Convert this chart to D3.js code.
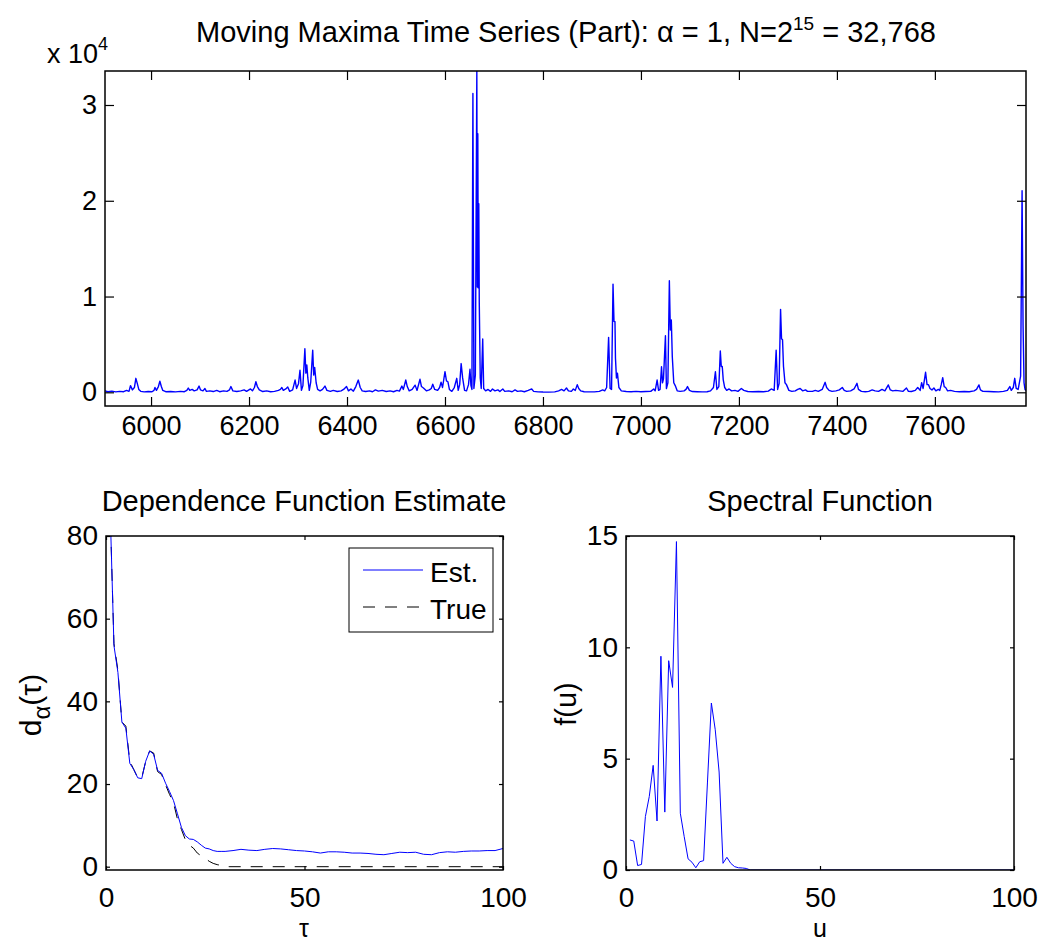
<!DOCTYPE html>
<html>
<head>
<meta charset="utf-8">
<script src="https://cdnjs.cloudflare.com/ajax/libs/d3/7.8.5/d3.min.js"></script>
<style>
  body { margin: 0; background: #fff; }
  svg { display: block; }
  text { font-family: "Liberation Sans", Arial, Helvetica, sans-serif; fill: #000; }
</style>
</head>
<body>
<script>
// moving maxima series (part), t and value
var tsT = [5906,5912,5920,5928,5936,5944,5950,5955,5958,5962,5966,5969,5972,5975,5979,5986,5994,6002,6006,6008,
  6011,6015,6018,6021,6024,6030,6040,6050,6060,6068,6073,6076,6079,6084,6088,6094,6098,6101,6106,6110,
  6113,6120,6127,6134,6140,6148,6155,6160,6163,6167,6175,6183,6190,6195,6203,6207,6211,6214,6217,6221,
  6228,6236,6244,6252,6260,6264,6267,6270,6275,6279,6283,6289,6294,6297,6301,6304,6307,6310,6314,6316,
  6318,6320,6323,6326,6330,6332,6334,6337,6340,6345,6350,6355,6359,6366,6372,6380,6388,6393,6399,6403,
  6408,6413,6418,6423,6427,6431,6438,6446,6452,6458,6464,6472,6480,6488,6495,6502,6507,6512,6515,6520,
  6523,6527,6533,6539,6543,6549,6552,6556,6562,6568,6572,6575,6579,6585,6589,6592,6595,6600,6603,6606,
  6609,6614,6619,6624,6627,6630,6633,6636,6640,6644,6648,6651,6653,6655,6657,6659,6662,6665,6666,6667,
  6668,6669,6670,6672,6674,6677,6679,6683,6688,6693,6697,6702,6708,6712,6718,6722,6730,6737,6743,6748,
  6755,6762,6770,6777,6781,6790,6800,6812,6824,6832,6838,6843,6848,6852,6858,6862,6866,6870,6873,6877,
  6884,6895,6905,6915,6922,6926,6930,6934,6937,6940,6943,6945,6947,6948,6950,6952,6955,6960,6970,6980,
  6990,7000,7010,7020,7026,7029,7033,7036,7039,7042,7044,7046,7050,7052,7055,7058,7060,7062,7064,7067,
  7070,7074,7080,7088,7092,7095,7099,7105,7115,7125,7135,7142,7148,7152,7155,7159,7162,7164,7166,7168,
  7171,7175,7180,7185,7192,7198,7205,7210,7218,7228,7240,7250,7260,7266,7272,7276,7279,7282,7285,7287,
  7289,7291,7294,7297,7302,7308,7315,7320,7325,7330,7336,7340,7350,7356,7362,7370,7376,7379,7384,7390,
  7398,7405,7411,7415,7420,7428,7435,7441,7444,7450,7458,7465,7472,7478,7485,7492,7498,7505,7509,7514,
  7520,7528,7535,7542,7546,7552,7560,7565,7570,7573,7576,7581,7584,7587,7590,7594,7598,7602,7607,7610,
  7613,7616,7619,7622,7626,7632,7640,7650,7660,7670,7680,7685,7690,7693,7698,7710,7720,7730,7740,7748,
  7753,7756,7760,7763,7766,7770,7775,7778,7780,7782,7784,7786];
var tsV = [150,60,120,50,100,60,200,100,700,250,500,1460,900,300,100,50,80,60,200,500,
  200,600,1150,600,200,60,80,50,100,60,200,450,200,300,150,250,650,250,150,400,
  100,150,80,200,60,150,100,250,600,150,80,150,250,100,350,150,500,1100,600,250,
  80,150,60,100,200,300,500,200,350,550,100,250,1280,400,900,2300,200,700,4550,2000,
  2850,1500,200,1100,4400,1800,2600,1000,300,150,300,650,200,100,200,80,150,300,600,150,
  350,120,600,1280,500,150,80,150,60,250,120,200,80,150,60,200,120,650,300,1280,
  600,150,300,750,200,1360,600,450,150,250,400,850,300,200,500,1050,500,2150,1200,1100,
  300,100,500,1460,200,800,3000,1500,200,150,800,2400,700,300,31200,400,1800,33550,11000,27000,
  10900,19700,9300,1500,400,5560,400,150,300,100,350,150,250,80,350,100,150,60,250,100,
  150,60,200,350,100,50,30,20,40,150,300,150,450,150,100,350,200,800,400,150,
  60,50,50,100,250,150,500,5740,400,300,11300,7400,7370,3550,1500,2000,500,150,80,60,
  100,60,80,100,350,150,1280,200,300,2670,1000,1400,5900,400,1000,11650,6500,7550,3720,1000,
  700,150,100,150,300,600,200,80,60,40,60,150,500,2150,300,600,4310,2700,2700,1300,
  500,200,350,150,200,100,400,200,80,60,80,60,120,350,200,4400,300,900,8660,5600,
  5500,2700,1000,800,200,100,150,300,400,150,250,100,100,200,100,300,1040,500,200,100,
  150,250,500,200,100,150,350,940,300,100,60,100,250,150,100,300,150,770,250,150,
  200,150,100,450,100,80,200,500,200,1000,400,2090,800,800,400,250,450,150,300,200,
  800,1530,600,500,150,200,100,60,80,60,150,300,770,250,100,80,60,50,100,200,
  600,200,500,1460,400,300,1700,21050,7000,1000,300,200];
var tsXTicks = [6000,6200,6400,6600,6800,7000,7200,7400,7600];
var tsYTicks = [0,10000,20000,30000];

// dependence function estimate vs true
var depTau = [1,2,3,4,5,6,7,8,9,10,11,12,13,14,15,16,17,18,19,20,21,22,23,24,25,26,27,28,29,30,
  32,34,36,38,40,42,44,46,48,50,52,54,56,58,60,62,64,66,68,70,72,74,76,78,80,82,84,86,88,90,92,94,96,98,100];
var depEst = [88,53.5,47,35,33.5,25,23.5,21.5,21.3,25.5,28,27.2,23.3,22.6,20.2,18.2,16,12.8,9.5,7.5,
  6.7,6.6,6,5.2,4.5,4.3,3.9,3.7,3.7,3.7,
  3.9,4.2,4,3.9,4.2,4.4,4.3,4.1,3.9,3.8,3.6,3.3,3.6,3.6,3.5,3.3,3.3,3.2,3,2.9,3.2,3.5,3.4,3.5,3,2.9,3.4,3.6,3.5,3.7,3.8,3.8,3.9,3.9,4.4];
var trueTau = [1,2,3,4,5,6,7,8,9,10,11,12,13,14,15,16,17,18,19,20,21,22,23,24,25,26,27,28,29,30,31,100];
var depTrue = [88,54,47.5,35,34,25.5,23.5,21.5,21.5,25.5,28,27.5,23,22.3,19.8,17.5,15.5,11.5,9,6.5,
  5.2,4.5,3.3,2.6,2,1.3,0.8,0.5,0.3,0.1,0,0];
var depXTicks = [0,50,100];
var depYTicks = [0,20,40,60,80];

// spectral function
var specU = [1,2,3,4,5,6,7,8,9,10,11,12,13,14,15,16,17,18,19,20,21,22,23,24,25,26,27,28,29,30,31,32,100];
var specF = [1.35,1.3,0.2,0.25,2.4,3.3,4.7,2.2,9.6,2.6,9.4,8.2,14.75,2.55,1.5,0.5,0.35,0.1,0.37,0.42,
  3.95,7.5,6.3,4.4,0.3,0.57,0.3,0.15,0.1,0.09,0.07,0,0];
var specXTicks = [0,50,100];
var specYTicks = [0,5,10,15];

var W = 1055, H = 944;
var svg = d3.select('body').append('svg').attr('width', W).attr('height', H);

function panel(box, xDomain, yDomain, xTicks, yTicks, tick, opts) {
    var x = d3.scaleLinear().domain(xDomain).range([box.left, box.right]);
    var y = d3.scaleLinear().domain(yDomain).range([box.bottom, box.top]);
    var g = svg.append('g');
    var fmt = opts.yFormat || (d => String(d));

    var clipId = 'clip' + box.left + '_' + box.top;
    g.append('clipPath').attr('id', clipId).append('rect')
        .attr('x', box.left).attr('y', box.top)
        .attr('width', box.right - box.left).attr('height', box.bottom - box.top);
    var plot = g.append('g').attr('clip-path', 'url(#' + clipId + ')');

    var ax = [
        g.append('g').attr('transform', 'translate(0,' + box.bottom + ')')
            .call(d3.axisBottom(x).tickValues(xTicks).tickSizeInner(-tick).tickSizeOuter(0)
                .tickPadding(opts.xPad).tickFormat(d => String(d))),
        g.append('g').attr('transform', 'translate(0,' + box.top + ')')
            .call(d3.axisTop(x).tickValues(xTicks).tickSizeInner(-tick).tickSizeOuter(0).tickFormat('')),
        g.append('g').attr('transform', 'translate(' + box.left + ',0)')
            .call(d3.axisLeft(y).tickValues(yTicks).tickSizeInner(-tick).tickSizeOuter(0).tickPadding(8).tickFormat(fmt)),
        g.append('g').attr('transform', 'translate(' + box.right + ',0)')
            .call(d3.axisRight(y).tickValues(yTicks).tickSizeInner(-tick).tickSizeOuter(0).tickFormat(''))
    ];
    ax.forEach(function (a) {
        a.select('.domain').remove();
        a.selectAll('line').attr('stroke', '#000').attr('stroke-width', 1.2);
        a.selectAll('text').attr('font-size', opts.tickFont)
            .attr('font-family', '"Liberation Sans", Arial, sans-serif').attr('fill', '#000');
    });

    g.append('rect').attr('x', box.left).attr('y', box.top)
        .attr('width', box.right - box.left).attr('height', box.bottom - box.top)
        .attr('fill', 'none').attr('stroke', '#000').attr('stroke-width', 1.5);

    return { x: x, y: y, plot: plot };
}

// top: time series
var tsPanel = panel({ left: 105, right: 1026, top: 71, bottom: 406 }, [5906, 7786], [-1430, 33550],
    tsXTicks, tsYTicks, 9, { xPad: 10, tickFont: 27, yFormat: d => String(d / 1e4) });
tsPanel.plot.append('path')
    .datum(tsT.map((t, i) => [t, tsV[i]]))
    .attr('fill', 'none').attr('stroke', '#0000ff').attr('stroke-width', 1.4)
    .attr('stroke-linejoin', 'round')
    .attr('d', d3.line().x(d => tsPanel.x(d[0])).y(d => tsPanel.y(d[1])));

var title = svg.append('text').attr('x', 566).attr('y', 42).attr('text-anchor', 'middle').attr('font-size', 29);
title.append('tspan').text('Moving Maxima Time Series (Part): α = 1, N=2');
title.append('tspan').attr('dy', -12).attr('font-size', 19).text('15');
title.append('tspan').attr('dy', 12).text(' = 32,768');

var mult = svg.append('text').attr('x', 47).attr('y', 63).attr('font-size', 27);
mult.append('tspan').text('x 10');
mult.append('tspan').attr('dy', -13).attr('font-size', 18).text('4');

// bottom left: dependence function
var dep = panel({ left: 106, right: 503, top: 536, bottom: 870 }, [0, 100], [-0.8, 80],
    depXTicks, depYTicks, 4, { xPad: 17, tickFont: 28 });
dep.plot.append('path')
    .datum(trueTau.map((t, i) => [t, depTrue[i]]))
    .attr('fill', 'none').attr('stroke', '#000').attr('stroke-width', 1)
    .attr('stroke-dasharray', '12,10')
    .attr('d', d3.line().x(d => dep.x(d[0])).y(d => dep.y(d[1])));
dep.plot.append('path')
    .datum(depTau.map((t, i) => [t, depEst[i]]))
    .attr('fill', 'none').attr('stroke', '#0000ff').attr('stroke-width', 1)
    .attr('d', d3.line().x(d => dep.x(d[0])).y(d => dep.y(d[1])));

svg.append('text').attr('x', 304).attr('y', 511).attr('text-anchor', 'middle').attr('font-size', 29)
    .text('Dependence Function Estimate');
svg.append('text').attr('x', 304).attr('y', 937).attr('text-anchor', 'middle').attr('font-size', 25).text('τ');
var ylab = svg.append('text').attr('transform', 'translate(32,705) rotate(-90)')
    .attr('text-anchor', 'middle').attr('dy', '0.3em').attr('font-size', 30);
ylab.append('tspan').text('d');
ylab.append('tspan').attr('dy', 9).attr('font-size', 24).text('α');
ylab.append('tspan').attr('dy', -9).text('(τ)');

// legend
var leg = svg.append('g');
leg.append('rect').attr('x', 349).attr('y', 548).attr('width', 144).attr('height', 84)
    .attr('fill', '#fff').attr('stroke', '#000').attr('stroke-width', 1);
leg.append('line').attr('x1', 363).attr('x2', 423).attr('y1', 570).attr('y2', 570)
    .attr('stroke', '#0000ff').attr('stroke-width', 1);
leg.append('line').attr('x1', 363).attr('x2', 423).attr('y1', 607).attr('y2', 607)
    .attr('stroke', '#000').attr('stroke-width', 1).attr('stroke-dasharray', '12,10');
leg.append('text').attr('x', 430).attr('y', 582).attr('font-size', 28).text('Est.');
leg.append('text').attr('x', 430).attr('y', 619).attr('font-size', 28).text('True');

// bottom right: spectral function
var spec = panel({ left: 626, right: 1014, top: 536, bottom: 870 }, [0, 100], [0, 15],
    specXTicks, specYTicks, 4, { xPad: 17, tickFont: 28 });
spec.plot.append('path')
    .datum(specU.map((u, i) => [u, specF[i]]))
    .attr('fill', 'none').attr('stroke', '#0000ff').attr('stroke-width', 1)
    .attr('d', d3.line().x(d => spec.x(d[0])).y(d => spec.y(d[1])));

svg.append('text').attr('x', 820).attr('y', 511).attr('text-anchor', 'middle').attr('font-size', 29)
    .text('Spectral Function');
svg.append('text').attr('x', 820).attr('y', 937).attr('text-anchor', 'middle').attr('font-size', 25).text('u');
svg.append('text').attr('transform', 'translate(566,704) rotate(-90)')
    .attr('text-anchor', 'middle').attr('dy', '0.35em').attr('font-size', 29).text('f(u)');
</script>
</body>
</html>
